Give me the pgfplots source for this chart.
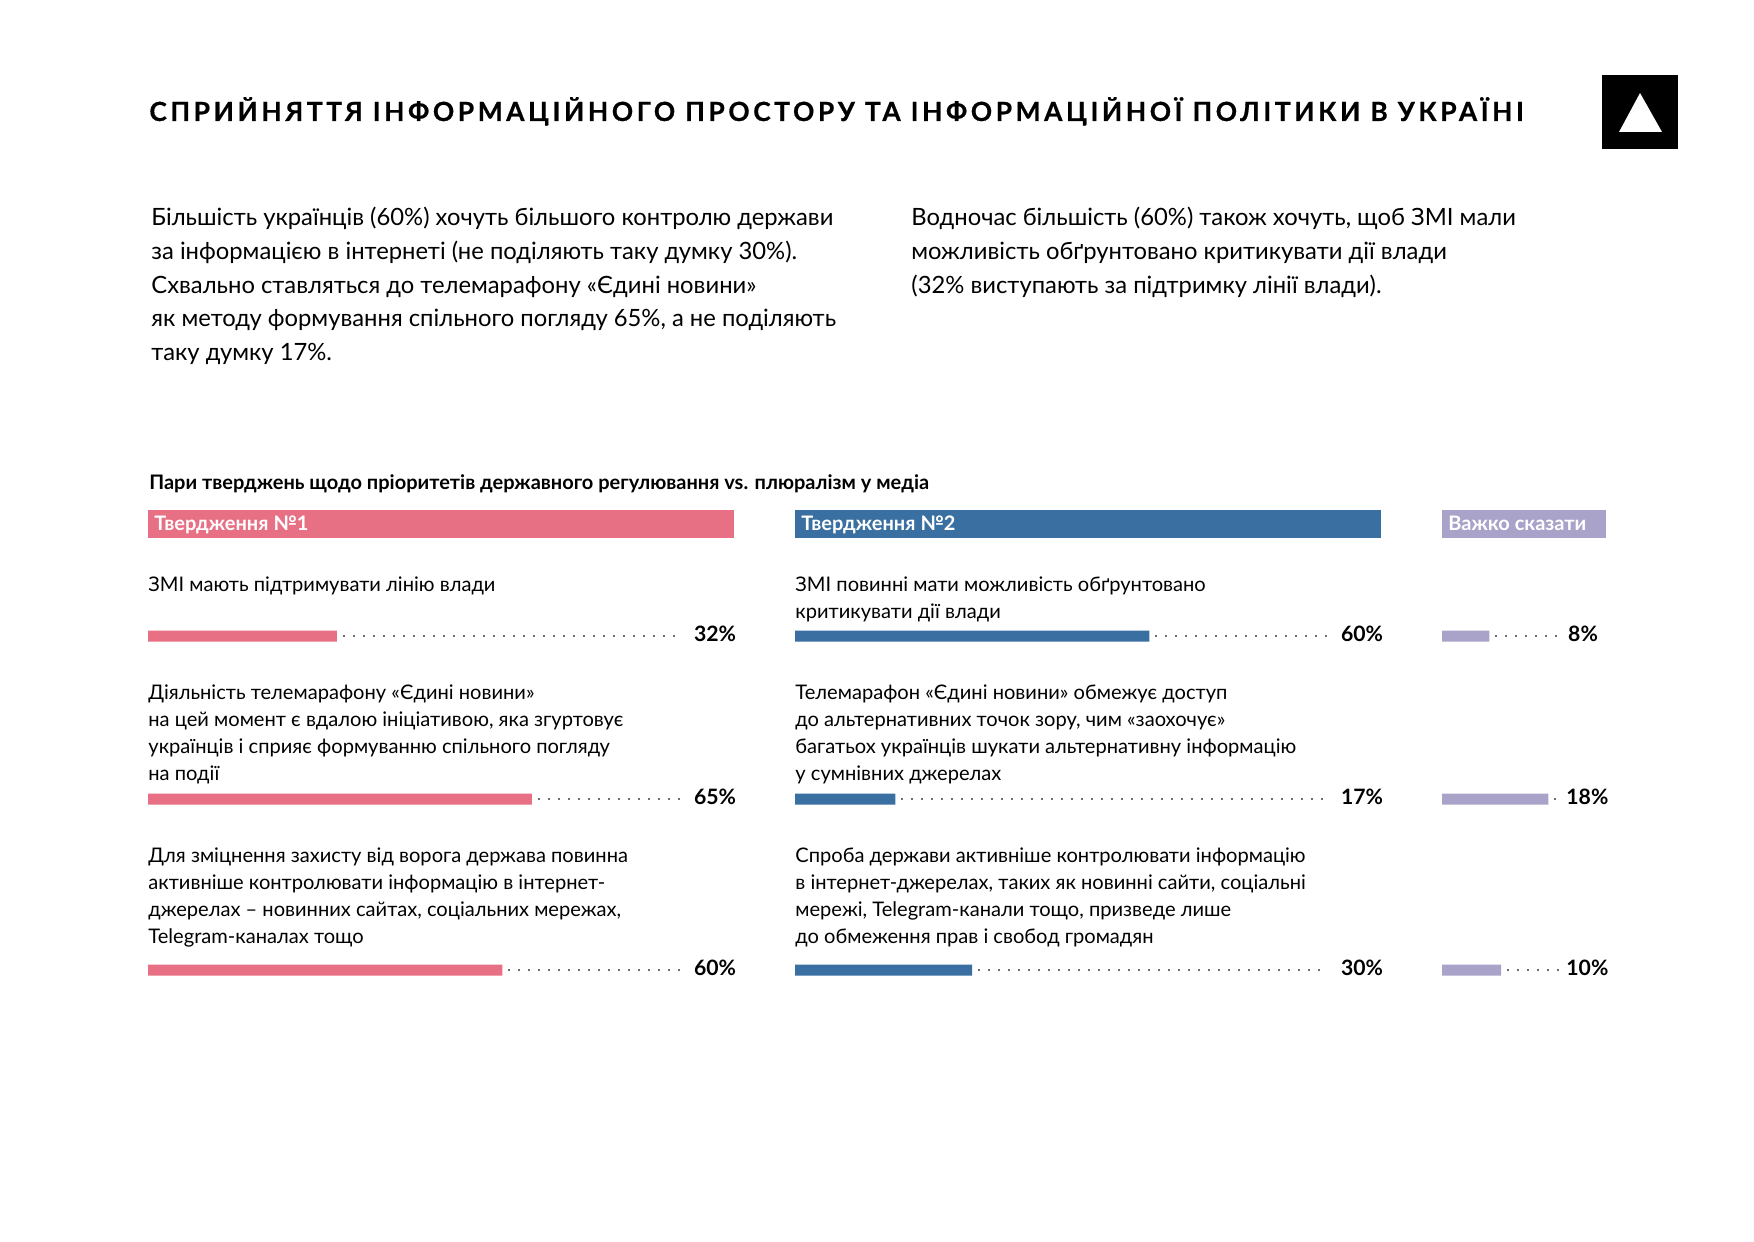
\documentclass[border=0pt]{standalone}
\usepackage{fontspec}
\setmainfont{Lato}
\newfontfamily\titlefont[LetterSpace=13.5, FakeBold=0.6]{Lato}
\usepackage{pgfplots}
\pgfplotsset{compat=1.18}

\definecolor{pinkbar}{RGB}{232,112,132}
\definecolor{bluebar}{RGB}{58,111,161}
\definecolor{lilac}{RGB}{169,162,201}
\definecolor{dotgray}{RGB}{110,110,110}

% one axis per column, 1 unit = 1 %, y in page pixels
\pgfplotsset{
  colaxis/.style={
    at={(#1,0pt)}, anchor=north west,
    scale only axis, width=295.3pt, height=620.5pt,
    xmin=0, xmax=100, ymin=0, ymax=1241, y dir=reverse,
    hide axis, clip=false,
  },
  hbar/.style={xbar, fill=#1, draw=none, bar width=5.5pt},
  dotline/.style={dotgray, line width=0.9pt, dash pattern=on 0.9pt off 4.1pt, no markers},
}
\newcommand\para{\fontsize{11.9}{16}\selectfont}
\newcommand\lab{\fontsize{10.05}{13}\selectfont}
\newcommand\val{\fontsize{10.6}{13}\selectfont\bfseries}

\begin{document}
\begin{tikzpicture}[x=0.5pt, y=-0.5pt]
\path[use as bounding box, fill=white] (0,0) rectangle (1754,1241);

% title and logo
\node[anchor=base west, inner sep=0, font=\titlefont\fontsize{13.2}{15}\selectfont\bfseries]
  at (149,121) {СПРИЙНЯТТЯ ІНФОРМАЦІЙНОГО ПРОСТОРУ ТА ІНФОРМАЦІЙНОЇ ПОЛІТИКИ В УКРАЇНІ};
\fill[black] (1602,75) rectangle (1678,149);
\fill[white] (1640,93) -- (1662,132) -- (1619,132) -- cycle;

% intro paragraphs
\foreach \t [count=\i from 0] in {
  {Більшість українців (60\%) хочуть більшого контролю держави},
  {за інформацією в інтернеті (не поділяють таку думку 30\%).},
  {Схвально ставляться до телемарафону «Єдині новини»},
  {як методу формування спільного погляду 65\%, а не поділяють},
  {таку думку 17\%.}}
  \node[anchor=base west, inner sep=0, font=\para] at (151,226+33.5*\i) {\t};
\foreach \t [count=\i from 0] in {
  {Водночас більшість (60\%) також хочуть, щоб ЗМІ мали},
  {можливість обґрунтовано критикувати дії влади},
  {(32\% виступають за підтримку лінії влади).}}
  \node[anchor=base west, inner sep=0, font=\para] at (911,226+33.5*\i) {\t};

% subtitle
\node[anchor=base west, inner sep=0, font=\fontsize{10}{12}\selectfont\bfseries]
  at (149,489) {Пари тверджень щодо пріоритетів державного регулювання vs. плюралізм у медіа};

% column headers
\fill[pinkbar] (148,510) rectangle (734,538);
\fill[bluebar] (795,510) rectangle (1381,538);
\fill[lilac] (1442,510) rectangle (1606,538);
\node[anchor=base west, inner sep=0, text=white, font=\fontsize{10}{12}\selectfont\bfseries] at (154,530) {Твердження №1};
\node[anchor=base west, inner sep=0, text=white, font=\fontsize{10}{12}\selectfont\bfseries] at (801,530) {Твердження №2};
\node[anchor=base west, inner sep=0, text=white, font=\fontsize{10}{12}\selectfont\bfseries] at (1448,530) {Важко сказати};

% statement texts
\node[anchor=base west, inner sep=0, font=\lab] at (148,591) {ЗМІ мають підтримувати лінію влади};
\foreach \t [count=\i from 0] in {
  {Діяльність телемарафону «Єдині новини»},
  {на цей момент є вдалою ініціативою, яка згуртовує},
  {українців і сприяє формуванню спільного погляду},
  {на події}}
  \node[anchor=base west, inner sep=0, font=\lab] at (148,699+27*\i) {\t};
\foreach \t [count=\i from 0] in {
  {Для зміцнення захисту від ворога держава повинна},
  {активніше контролювати інформацію в інтернет-},
  {джерелах – новинних сайтах, соціальних мережах,},
  {Telegram-каналах тощо}}
  \node[anchor=base west, inner sep=0, font=\lab] at (148,862+27*\i) {\t};

\foreach \t [count=\i from 0] in {
  {ЗМІ повинні мати можливість обґрунтовано},
  {критикувати дії влади}}
  \node[anchor=base west, inner sep=0, font=\lab] at (795,591+27*\i) {\t};
\foreach \t [count=\i from 0] in {
  {Телемарафон «Єдині новини» обмежує доступ},
  {до альтернативних точок зору, чим «заохочує»},
  {багатьох українців шукати альтернативну інформацію},
  {у сумнівних джерелах}}
  \node[anchor=base west, inner sep=0, font=\lab] at (795,699+27*\i) {\t};
\foreach \t [count=\i from 0] in {
  {Спроба держави активніше контролювати інформацію},
  {в інтернет-джерелах, таких як новинні сайти, соціальні},
  {мережі, Telegram-канали тощо, призведе лише},
  {до обмеження прав і свобод громадян}}
  \node[anchor=base west, inner sep=0, font=\lab] at (795,862+27*\i) {\t};

% Statement 1
\begin{axis}[colaxis=74pt]
  \addplot[hbar=pinkbar] coordinates {(32,636) (65,799) (60,970)};
  \addplot[dotline] coordinates {(33,636) (90,636)};
  \addplot[dotline] coordinates {(66,799) (90,799)};
  \addplot[dotline] coordinates {(61,970) (90,970)};
  \node[anchor=base west, inner sep=0, font=\val] at (axis cs:92.4,641) {32\%};
  \node[anchor=base west, inner sep=0, font=\val] at (axis cs:92.4,804) {65\%};
  \node[anchor=base west, inner sep=0, font=\val] at (axis cs:92.4,975) {60\%};
\end{axis}

% Statement 2
\begin{axis}[colaxis=397.5pt]
  \addplot[hbar=bluebar] coordinates {(60,636) (17,799) (30,970)};
  \addplot[dotline] coordinates {(61,636) (90,636)};
  \addplot[dotline] coordinates {(18,799) (90,799)};
  \addplot[dotline] coordinates {(31,970) (90,970)};
  \node[anchor=base west, inner sep=0, font=\val] at (axis cs:92.4,641) {60\%};
  \node[anchor=base west, inner sep=0, font=\val] at (axis cs:92.4,804) {17\%};
  \node[anchor=base west, inner sep=0, font=\val] at (axis cs:92.4,975) {30\%};
\end{axis}

% Hard to say
\begin{axis}[colaxis=721pt]
  \addplot[hbar=lilac] coordinates {(8,636) (18,799) (10,970)};
  \addplot[dotline] coordinates {(9,636) (20,636)};
  \addplot[dotline] coordinates {(19,799) (20,799)};
  \addplot[dotline] coordinates {(11,970) (20,970)};
  \node[anchor=base west, inner sep=0, font=\val] at (axis cs:21.3,641) {8\%};
  \node[anchor=base west, inner sep=0, font=\val] at (axis cs:21,804) {18\%};
  \node[anchor=base west, inner sep=0, font=\val] at (axis cs:21,975) {10\%};
\end{axis}
\end{tikzpicture}
\end{document}
